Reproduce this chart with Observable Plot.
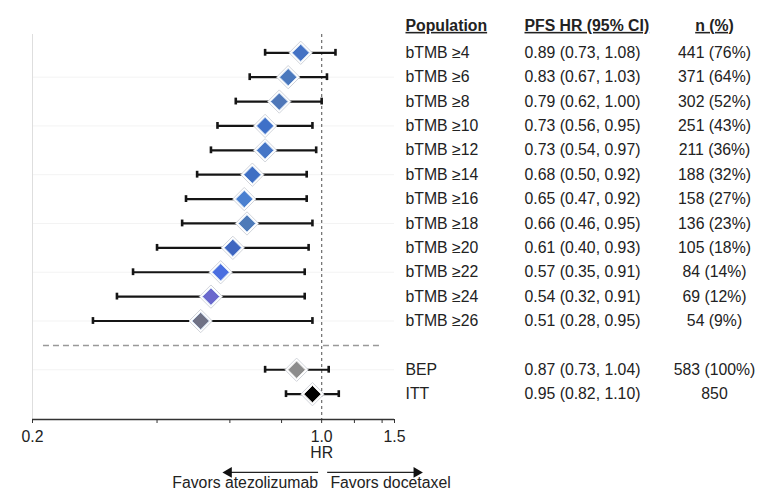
<!DOCTYPE html>
<html><head><meta charset="utf-8">
<script src="https://cdn.jsdelivr.net/npm/d3@7"></script>
<script src="https://cdn.jsdelivr.net/npm/@observablehq/plot@0.6"></script>
<style>body{margin:0;background:#fff}</style>
</head><body><div id="chart"></div>
<script>
const populations = ["bTMB ≥4","bTMB ≥6","bTMB ≥8","bTMB ≥10","bTMB ≥12","bTMB ≥14","bTMB ≥16","bTMB ≥18","bTMB ≥20","bTMB ≥22","bTMB ≥24","bTMB ≥26","BEP","ITT"];
const hr  = [0.89,0.83,0.79,0.73,0.73,0.68,0.65,0.66,0.61,0.57,0.54,0.51,0.87,0.95];
const lo  = [0.73,0.67,0.62,0.56,0.54,0.50,0.47,0.46,0.40,0.35,0.32,0.28,0.73,0.82];
const hi  = [1.08,1.03,1.00,0.95,0.97,0.92,0.92,0.95,0.93,0.91,0.91,0.95,1.04,1.10];
const nLabels = ["441 (76%)","371 (64%)","302 (52%)","251 (43%)","211 (36%)","188 (32%)","158 (27%)","136 (23%)","105 (18%)","84 (14%)","69 (12%)","54 (9%)","583 (100%)","850"];
const colors = ["#4472c4","#4a78bd","#4f77b8","#3f70c8","#4676c6","#3f6fc4","#4a80d0","#4d7ab8","#3f66c0","#4a6ee0","#6a68cc","#707286","#8c8c8c","#000000"];
const headers = ["Population","PFS HR (95% CI)","n (%)"];
const xTicks = [0.2,0.4,0.6,0.8,1,1.2,1.4,1.5];
const xLabelTicks = [0.2,1,1.5];

// layout constants
const Y0 = -0.75, Y1 = 15.04;
const sepRow = 12;
const data = populations.map((p,i)=>({
  pop:p, hr:hr[i], lo:lo[i], hi:hi[i], n:nLabels[i], color:colors[i],
  row: i < 12 ? i : i + 1,
  ci: `${hr[i].toFixed(2)} (${lo[i].toFixed(2)}, ${hi[i].toFixed(2)})`
}));
const gridRows = data.filter(d => d.row % 2 === 1).map(d => d.row);
const arrowY = 17.21;

const chart = Plot.plot({
  width: 769, height: 495,
  marginLeft: 32, marginRight: 375, marginTop: 34, marginBottom: 76,
  style: {fontFamily: "'Liberation Sans', Arial, sans-serif", fontSize: "15.8px", color: "#222", background: "#fff"},
  x: {type: "log", domain: [0.2, 1.5], axis: null},
  y: {domain: [Y0, Y1], reverse: true, axis: null},
  color: {type: "identity"},
  marks: [
    Plot.ruleY(gridRows, {y: d => d, x1: 0.2, x2: 1.5, stroke: "#f3f3f3"}),
    Plot.ruleX([0.2], {y1: Y0, y2: Y1, stroke: "#dedede"}),
    Plot.ruleX([1], {y1: Y0, y2: Y1, stroke: "#777", strokeDasharray: "3,3", strokeWidth: 1.3}),
    Plot.ruleY([sepRow], {x1: 0.2126, x2: 1.41, stroke: "#999", strokeDasharray: "6,4", strokeWidth: 1.5}),
    Plot.ruleY(data, {y: "row", x1: "lo", x2: "hi", stroke: "#151515", strokeWidth: 2.2}),
    Plot.ruleX(data, {x: "lo", y1: d => d.row - 0.14, y2: d => d.row + 0.14, stroke: "#151515", strokeWidth: 2.6}),
    Plot.ruleX(data, {x: "hi", y1: d => d.row - 0.14, y2: d => d.row + 0.14, stroke: "#151515", strokeWidth: 2.6}),
    Plot.dot(data, {x: "hr", y: "row", symbol: "diamond2", r: 10.5, fill: "#ffffff", stroke: "#c5c9d0", strokeWidth: 0.8}),
    Plot.dot(data, {x: "hr", y: "row", symbol: "diamond2", r: 7.8, fill: "color", stroke: d => d.row < 12 ? "#d4e3f6" : "#e6e6e6", strokeWidth: 1}),
    // axis
    Plot.ruleY([Y1], {x1: 0.2, x2: 1.5, stroke: "#333", strokeWidth: 1.5}),
    Plot.axisX({ticks: xTicks, tickSize: 4, tickPadding: 7, stroke: "#333",
      tickFormat: d => xLabelTicks.includes(d) ? d.toFixed(1) : "", fontSize: 15.8, fill: "#222"}),
    Plot.text(["HR"], {x: 1, frameAnchor: "bottom", dy: 38, fill: "#222"}),
    // favors arrows
    Plot.ruleY([arrowY], {x1: 0.596, x2: 0.983, stroke: "#222", strokeWidth: 1.2}),
    Plot.ruleY([arrowY], {x1: 1.034, x2: 1.697, stroke: "#222", strokeWidth: 1.2}),
    Plot.dot([0.596], {x: d => d, y: arrowY, symbol: "triangle", r: 4, rotate: -90, fill: "#111"}),
    Plot.dot([1.697], {x: d => d, y: arrowY, symbol: "triangle", r: 4, rotate: 90, fill: "#111"}),
    Plot.text(["Favors atezolizumab"], {x: 0.98, frameAnchor: "bottom", dy: 68, textAnchor: "end", fill: "#222"}),
    Plot.text(["Favors docetaxel"], {x: 1.05, frameAnchor: "bottom", dy: 68, textAnchor: "start", fill: "#222"}),
    // table
    Plot.text([headers[0]], {y: -1.107, frameAnchor: "right", dx: 11, textAnchor: "start", fontWeight: "bold", fill: "#222"}),
    Plot.text([headers[1]], {y: -1.107, frameAnchor: "right", dx: 130, textAnchor: "start", fontWeight: "bold", fill: "#222"}),
    Plot.text([headers[2]], {y: -1.107, frameAnchor: "right", dx: 320, textAnchor: "middle", fontWeight: "bold", fill: "#222"}),
    Plot.text(data, {y: "row", text: "pop", frameAnchor: "right", dx: 11, textAnchor: "start", fill: "#222"}),
    Plot.text(data, {y: "row", text: "ci", frameAnchor: "right", dx: 130, textAnchor: "start", fill: "#222"}),
    Plot.text(data, {y: "row", text: "n", frameAnchor: "right", dx: 320, textAnchor: "middle", fill: "#222"})
  ]
});
d3.select(chart).selectAll("text").filter(function(){ return headers.includes(this.textContent); })
  .style("text-decoration", "underline");
document.getElementById("chart").appendChild(chart);
</script>
</body></html>
